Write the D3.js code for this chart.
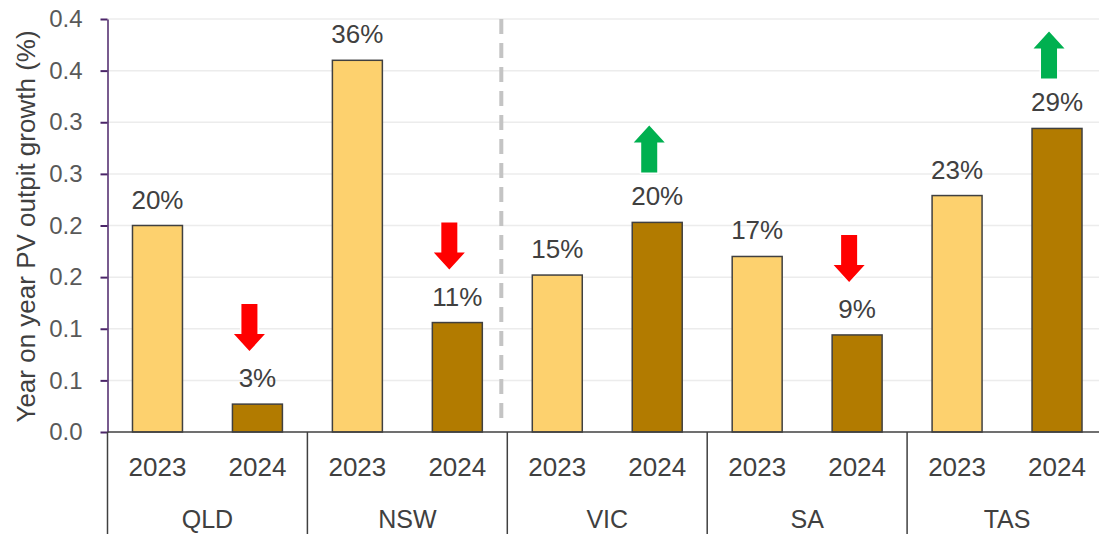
<!DOCTYPE html>
<html>
<head>
<meta charset="utf-8">
<script src="https://cdn.jsdelivr.net/npm/d3@7"></script>
<style>
  html, body { margin: 0; padding: 0; background: #fff; overflow: hidden; }
  text { font-family: "Liberation Sans", Arial, sans-serif; }
</style>
</head>
<body>
<div id="chart"></div>
<script>
// data
const states = ["QLD", "NSW", "VIC", "SA", "TAS"];
const years = ["2023", "2024"];
const growth2023 = [0.200, 0.360, 0.152, 0.170, 0.229];
const growth2024 = [0.027, 0.106, 0.203, 0.094, 0.294];
const trend = ["down", "down", "up", "down", "up"];   // arrow above the 2024 bar
const yTicks = [0, 0.05, 0.1, 0.15, 0.2, 0.25, 0.3, 0.35, 0.4];
const yTickLabels = ["0.0", "0.1", "0.1", "0.2", "0.2", "0.3", "0.3", "0.4", "0.4"];
const yTitle = "Year on year PV outpit growth (%)";

const W = 1099, H = 534;
const margin = {top: 19, right: -8, bottom: 102, left: 107.5};
const plotBottom = H - margin.bottom;

const svg = d3.select("#chart").append("svg")
    .attr("width", W)
    .attr("height", H);

const x0 = d3.scaleBand()
    .domain(states)
    .range([margin.left, W - margin.right])
    .padding(0);

const x1 = d3.scaleBand()
    .domain(years)
    .range([0, x0.bandwidth()])
    .paddingInner(0.5)
    .paddingOuter(0.25);

const y = d3.scaleLinear()
    .domain([0, 0.4])
    .range([plotBottom, margin.top]);

const colors = {"2023": "#fdd16e", "2024": "#b27b00"};
const fmt = d3.format(".0%");

// gridlines
svg.append("g")
    .selectAll("line")
    .data(yTicks.slice(1))
    .join("line")
    .attr("x1", margin.left)
    .attr("x2", W)
    .attr("y1", d => y(d))
    .attr("y2", d => y(d))
    .attr("stroke", "#ececec")
    .attr("stroke-width", 1.5);

// dashed divider between NSW and VIC
svg.append("line")
    .attr("x1", x0("VIC") - 6)
    .attr("x2", x0("VIC") - 6)
    .attr("y1", y(0.4))
    .attr("y2", plotBottom - 6)
    .attr("stroke", "#c4c4c4")
    .attr("stroke-width", 4)
    .attr("stroke-dasharray", "15,9");

const rows = [];
states.forEach((s, i) => {
    rows.push({state: s, year: "2023", value: growth2023[i]});
    rows.push({state: s, year: "2024", value: growth2024[i], trend: trend[i]});
});

const bx = d => x0(d.state) + x1(d.year);

// bars
svg.append("g")
    .selectAll("rect")
    .data(rows)
    .join("rect")
    .attr("x", bx)
    .attr("y", d => y(d.value))
    .attr("width", x1.bandwidth())
    .attr("height", d => y(0) - y(d.value))
    .attr("fill", d => colors[d.year])
    .attr("stroke", "#404040")
    .attr("stroke-width", 1.5);

// value labels
svg.append("g")
    .selectAll("text")
    .data(rows)
    .join("text")
    .attr("x", d => bx(d) + x1.bandwidth() / 2)
    .attr("y", d => y(d.value) - 17)
    .attr("text-anchor", "middle")
    .attr("font-size", 26)
    .attr("fill", "#404040")
    .text(d => fmt(d.value));

// arrows above 2024 bars
const arrowH = 47, headH = 17, headW = 31, shaftW = 16;
function arrowPath(cx, yNear, dir) {
    // yNear = end of arrow nearest the bar
    if (dir === "up") {
        const b = yNear, t = yNear - arrowH, hb = t + headH;
        return `M${cx - shaftW / 2},${b}L${cx - shaftW / 2},${hb}L${cx - headW / 2},${hb}L${cx},${t}` +
               `L${cx + headW / 2},${hb}L${cx + shaftW / 2},${hb}L${cx + shaftW / 2},${b}Z`;
    }
    const tip = yNear, t = yNear - arrowH, hb = tip - headH;
    return `M${cx - shaftW / 2},${t}L${cx - shaftW / 2},${hb}L${cx - headW / 2},${hb}L${cx},${tip}` +
           `L${cx + headW / 2},${hb}L${cx + shaftW / 2},${hb}L${cx + shaftW / 2},${t}Z`;
}
svg.append("g")
    .selectAll("path")
    .data(rows.filter(d => d.trend))
    .join("path")
    .attr("d", d => arrowPath(bx(d) + x1.bandwidth() / 2 - 8,
                              y(d.value) - (d.trend === "up" ? 50 : 53), d.trend))
    .attr("fill", d => d.trend === "up" ? "#00b050" : "#ff0000")
    .attr("stroke", "#fff")
    .attr("stroke-width", 3)
    .style("paint-order", "stroke");

// y axis
const yAxis = svg.append("g")
    .attr("transform", `translate(${margin.left},0)`)
    .call(d3.axisLeft(y)
        .tickValues(yTicks)
        .tickFormat((d, i) => yTickLabels[i])
        .tickSize(7)
        .tickSizeOuter(0)
        .tickPadding(18));
yAxis.select(".domain").attr("stroke", "#4b2568").attr("stroke-width", 1.5);
yAxis.selectAll(".tick line").attr("stroke", "#4b2568").attr("stroke-width", 2);
yAxis.selectAll(".tick text")
    .attr("font-size", 24)
    .attr("fill", "#595959")
    .style("font-family", "'Liberation Sans', Arial, sans-serif");

svg.append("text")
    .attr("transform", `translate(26,${(margin.top + plotBottom) / 2 + 1}) rotate(-90)`)
    .attr("text-anchor", "middle")
    .attr("dominant-baseline", "central")
    .attr("font-size", 26)
    .attr("fill", "#404040")
    .text(yTitle);

// category axis (two levels)
const cat = svg.append("g");
cat.append("line")
    .attr("x1", margin.left)
    .attr("x2", W - margin.right)
    .attr("y1", plotBottom)
    .attr("y2", plotBottom)
    .attr("stroke", "#404040")
    .attr("stroke-width", 1.5);

cat.selectAll("line.sep")
    .data(states.concat(["end"]))
    .join("line")
    .attr("class", "sep")
    .attr("x1", (d, i) => i < states.length ? x0(d) : x0.range()[1])
    .attr("x2", (d, i) => i < states.length ? x0(d) : x0.range()[1])
    .attr("y1", plotBottom)
    .attr("y2", H)
    .attr("stroke", "#404040")
    .attr("stroke-width", 1.5);

cat.selectAll("text.year")
    .data(rows)
    .join("text")
    .attr("class", "year")
    .attr("x", d => bx(d) + x1.bandwidth() / 2)
    .attr("y", plotBottom + 44)
    .attr("text-anchor", "middle")
    .attr("font-size", 26)
    .attr("fill", "#404040")
    .text(d => d.year);

cat.selectAll("text.state")
    .data(states)
    .join("text")
    .attr("class", "state")
    .attr("x", d => x0(d) + x0.bandwidth() / 2)
    .attr("y", plotBottom + 96)
    .attr("text-anchor", "middle")
    .attr("font-size", 25)
    .attr("fill", "#404040")
    .text(d => d);
</script>
</body>
</html>
